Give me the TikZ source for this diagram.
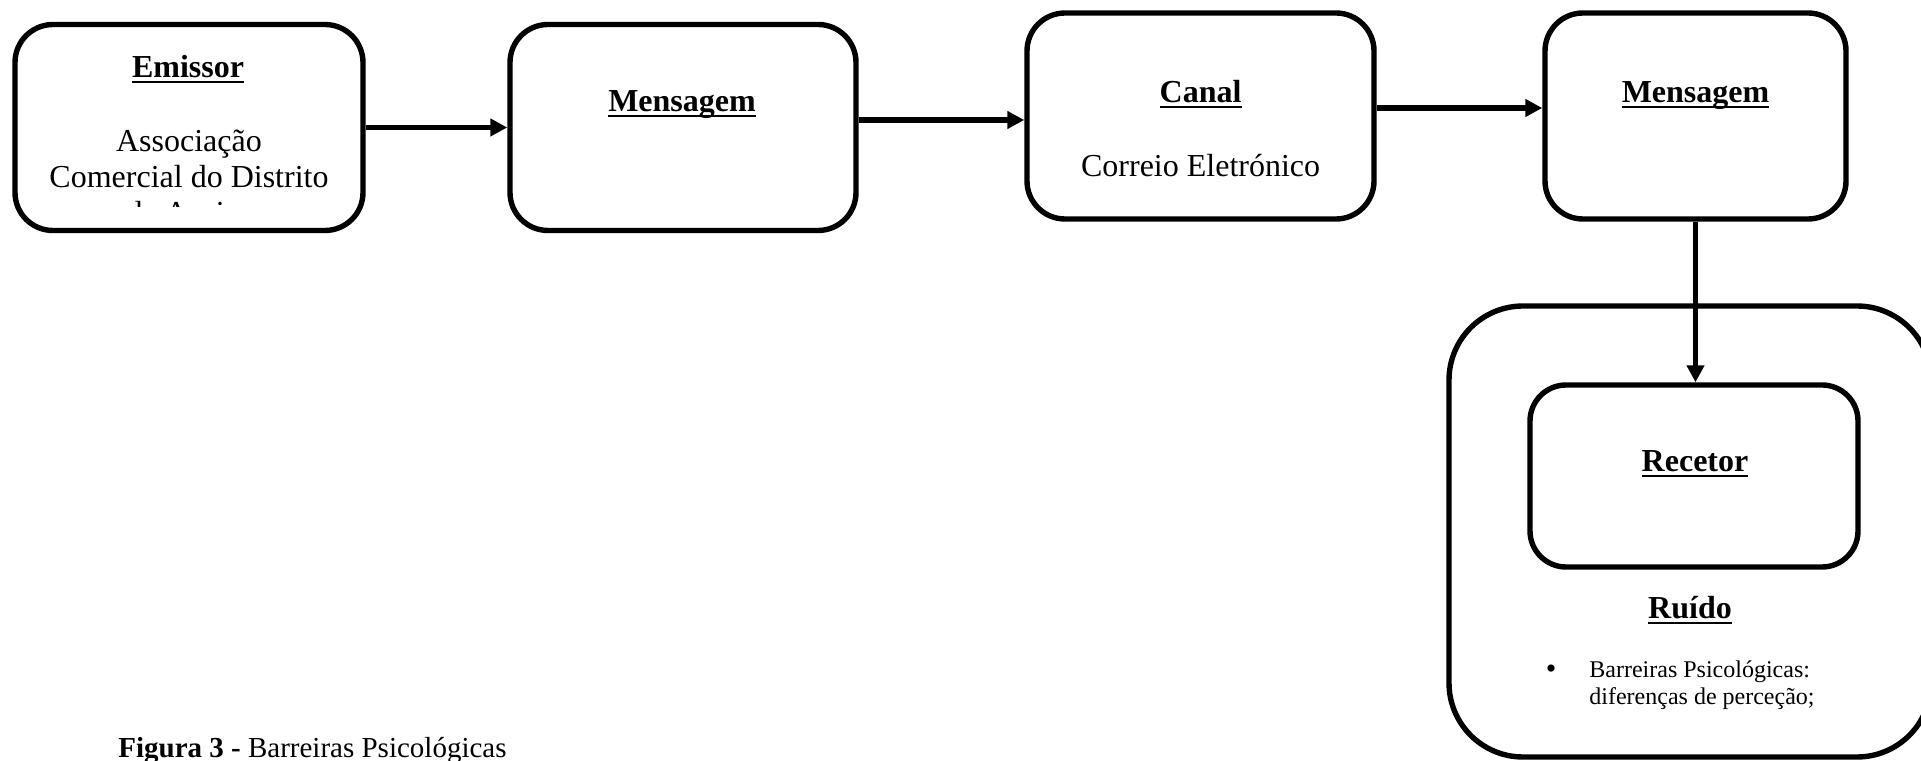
\documentclass[tikz,border=0pt]{standalone}
\usepackage{fontspec}
\setmainfont{Liberation Serif}
\usetikzlibrary{arrows.meta,positioning}
\newcommand{\hdtext}[1]{\textbf{\setbox0\hbox{#1}\rlap{\rule[-2.6pt]{\wd0}{1.3pt}}\box0}}

\begin{document}
\begin{tikzpicture}[x=1pt,y=1pt,
 box/.style={draw,line width=2.7pt,rounded corners=19pt,minimum width=#1,minimum height=103pt,inner sep=0pt},
 frame/.style={draw,line width=2.7pt,rounded corners=37pt,minimum width=241pt,minimum height=225.5pt,inner sep=0pt},
 head/.style={font=\fontsize{16}{18}\selectfont,anchor=base,inner sep=0pt},
 txt/.style={font=\fontsize{16}{18}\selectfont,anchor=base,inner sep=0pt,align=center},
 small/.style={font=\fontsize{12}{14}\selectfont,anchor=base west,inner sep=0pt,align=left},
 arr/.style={-{Triangle[length=8.5pt,width=8.5pt]},line width=2.7pt}]
\useasboundingbox (0,0) rectangle (960.5,380);
% top row
\node[box=174pt] (emissor) at (94.5,316.25) {};
\node[box=173pt] (msg1) at (341.5,316.25) {};
\node[box=173.5pt] (canal) at (600.25,322) {};
\node[box=150.5pt] (msg2) at (847.75,322) {};
\node[head] (emissorhd) at (94,341) {\hdtext{Emissor}};
\begin{scope}
 \clip (0,276.5) rectangle (200,380);
 \node[txt] (emissortxt) at (94.5,268) {Associação\\Comercial do Distrito\\de Aveiro};
\end{scope}
\node[head] (msg1hd) at (341,324) {\hdtext{Mensagem}};
\node[head] (canalhd) at (600.3,328.5) {\hdtext{Canal}};
\node[txt] (canaltxt) at (600.3,291.5) {Correio Eletrónico};
\node[head] (msg2hd) at (847.75,328.5) {\hdtext{Mensagem}};
% receiver and noise
\node[frame] (ruido) at (845,114.25) {};
\node[box=164pt,minimum height=91pt,rounded corners=18pt] (recetor) at (847,142) {};
\node[head] (recetorhd) at (847.5,144) {\hdtext{Recetor}};
\node[head] (ruidohd) at (845,70.5) {\hdtext{Ruído}};
\node[small,anchor=base,font=\fontsize{15}{14}\selectfont] (dot) at (775.5,40.5) {\textbullet};
\node[small] (ruidotxt) at (794.5,27.5) {Barreiras Psicológicas:\\diferenças de perceção;};
\draw[arr] (emissor) -- (msg1);
\draw[arr] ([yshift=-2pt]canal.west -| msg1.east) -- ([yshift=-2pt]canal.west);
\draw[arr] ([yshift=4pt]canal.east) -- ([yshift=4pt]msg2.west);
\draw[arr] (msg2.south) -- (msg2.south |- recetor.north);
\node[anchor=base west,inner sep=0pt,font=\fontsize{14.5}{17}\selectfont] (caption) at (59,1.5) {\textbf{Figura 3 -} Barreiras Psicológicas};
\end{tikzpicture}
\end{document}
